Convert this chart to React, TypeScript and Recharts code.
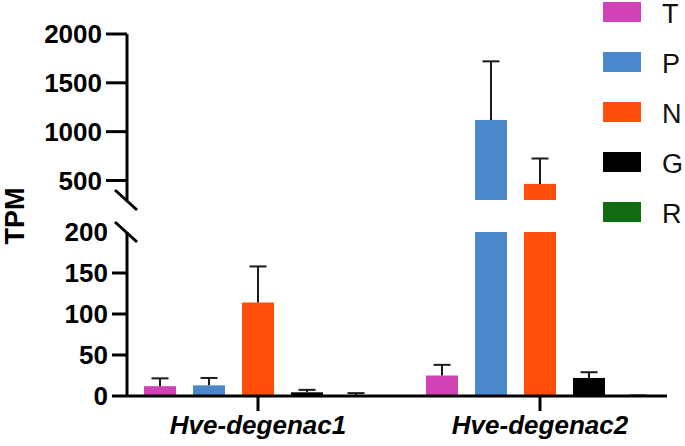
import React from 'react';
import { BarChart, Bar, XAxis, YAxis, Legend } from 'recharts';

const categories = ['Hve-degenac1', 'Hve-degenac2'];
const seriesNames = ['T', 'P', 'N', 'G', 'R'];
const seriesColors = ['#D042B6', '#4B87CB', '#FF4E0C', '#000000', '#116B10'];
const valuesT = [12, 25];
const valuesP = [13, 1120];
const valuesN = [114, 465];
const valuesG = [4.5, 22];
const valuesR = [1, 0.3];
const errT = [9.5, 13];
const errP = [9, 600];
const errN = [44, 260];
const errG = [3, 7];
const errR = [2.5, 0.3];
const upperTicks = [300, 500, 1000, 1500, 2000];
const lowerTicks = [0, 50, 100, 150, 200];
const upperDomain = [300, 2000];
const lowerDomain = [0, 200];

const allValues = [valuesT, valuesP, valuesN, valuesG, valuesR];
const allErrs = [errT, errP, errN, errG, errR];

const upperData = categories.map((c, i) => {
  const row: any = { name: c };
  seriesNames.forEach((s, k) => {
    const v = allValues[k][i];
    row[s] = v > upperDomain[0] ? v : null;
    row[s + 'err'] = v > upperDomain[0] ? allErrs[k][i] : 0;
  });
  return row;
});

const lowerData = categories.map((c, i) => {
  const row: any = { name: c };
  seriesNames.forEach((s, k) => {
    const v = allValues[k][i];
    row[s] = Math.min(v, lowerDomain[1]);
    row[s + 'err'] = v <= lowerDomain[1] ? allErrs[k][i] : 0;
  });
  return row;
});

const FONT = '"Liberation Sans", Arial, sans-serif';

const makeShape = (errKey: string, span: number, base: number) => (props: any) => {
  const { x, y, width, height, fill, payload, background, value } = props;
  if (height == null || !(height > 0) || y == null) return <g />;
  let ppu = 0;
  if (background && background.height) ppu = background.height / span;
  else {
    const v = Array.isArray(value) ? value[1] : value;
    ppu = height / (v - base);
  }
  const e = payload ? payload[errKey] || 0 : 0;
  const cx = x + width / 2;
  const yTop = y - e * ppu;
  return (
    <g>
      <rect x={x} y={y} width={width} height={height} fill={fill} />
      {e > 0 && (
        <g stroke="#1a1a1a" strokeWidth={2}>
          <line x1={cx} y1={y} x2={cx} y2={yTop} />
          <line x1={cx - 8.5} y1={yTop} x2={cx + 8.5} y2={yTop} />
        </g>
      )}
    </g>
  );
};

const UpperTick = (props: any) => {
  const { x, y, payload } = props;
  if (payload.value === upperDomain[0]) {
    return <line x1={x - 12} y1={y - 10} x2={x + 10} y2={y + 10} stroke="#000" strokeWidth={3} />;
  }
  return (
    <g>
      <line x1={x - 21} y1={y} x2={x} y2={y} stroke="#000" strokeWidth={3} />
      <text x={x - 25} y={y} dy="0.36em" textAnchor="end" fontFamily={FONT} fontWeight="bold" fontSize={26} fill="#000">
        {payload.value}
      </text>
    </g>
  );
};

const LowerTick = (props: any) => {
  const { x, y, payload } = props;
  const isTop = payload.value === lowerDomain[1];
  return (
    <g>
      {isTop ? (
        <line x1={x - 12} y1={y - 10} x2={x + 10} y2={y + 10} stroke="#000" strokeWidth={3} />
      ) : (
        <line x1={x - 15} y1={y} x2={x} y2={y} stroke="#000" strokeWidth={3} />
      )}
      <text x={x - 19} y={y} dy="0.36em" textAnchor="end" fontFamily={FONT} fontWeight="bold" fontSize={26} fill="#000">
        {payload.value}
      </text>
    </g>
  );
};

const CatTick = (props: any) => {
  const { x, y, payload } = props;
  return (
    <g>
      <line x1={x} y1={y} x2={x} y2={y + 15} stroke="#000" strokeWidth={3} />
      <text x={x} y={y + 29} dy="0.36em" textAnchor="middle" fontFamily={FONT} fontWeight="bold" fontStyle="italic" fontSize={26} fill="#000">
        {payload.value}
      </text>
    </g>
  );
};

const LegendContent = (props: any) => {
  const payload = [...(props.payload || [])].sort(
    (a: any, b: any) => seriesNames.indexOf(a.value) - seriesNames.indexOf(b.value)
  );
  return (
    <svg width={85} height={230}>
      {payload.map((p: any, i: number) => (
        <g key={p.value}>
          <rect x={3} y={2 + i * 50} width={38} height={20} fill={p.color} />
          <text x={62} y={13 + i * 50} dy="0.36em" fontFamily={FONT} fontSize={27} fill="#111">
            {p.value}
          </text>
        </g>
      ))}
    </svg>
  );
};

const xPadding = { left: -10, right: -14 };

export default function App() {
  return (
    <div style={{ position: 'absolute', left: 0, top: 0, width: 685, height: 446, background: '#fff' }}>
      <div style={{ position: 'absolute', left: 0, top: 0 }}>
        <BarChart width={685} height={215} data={upperData} margin={{ top: 34, right: 18, bottom: 15, left: 0 }} barSize={32} barGap={17}>
          <XAxis dataKey="name" hide padding={xPadding} />
          <YAxis
            type="number"
            domain={upperDomain}
            allowDataOverflow
            ticks={upperTicks}
            interval={0}
            width={127}
            tickSize={0}
            tickMargin={0}
            tickLine={false}
            axisLine={{ stroke: '#000', strokeWidth: 3 }}
            tick={<UpperTick />}
          />
          <Legend
            layout="vertical"
            align="center"
            verticalAlign="middle"
            itemSorter={null as any}
            wrapperStyle={{ left: 600, top: 0, width: 85, height: 230 }}
            content={<LegendContent />}
          />
          {seriesNames.map((s, k) => (
            <Bar
              key={s}
              dataKey={s}
              name={s}
              fill={seriesColors[k]}
              isAnimationActive={false}
              shape={makeShape(s + 'err', upperDomain[1] - upperDomain[0], upperDomain[0])}
            />
          ))}
        </BarChart>
      </div>
      <div style={{ position: 'absolute', left: 0, top: 215 }}>
        <BarChart width={685} height={231} data={lowerData} margin={{ top: 17, right: 18, bottom: 0, left: 0 }} barSize={32} barGap={17}>
          <XAxis
            dataKey="name"
            padding={xPadding}
            height={50}
            tickSize={0}
            tickMargin={0}
            tickLine={false}
            axisLine={{ stroke: '#000', strokeWidth: 3 }}
            tick={<CatTick />}
            interval={0}
          />
          <YAxis
            type="number"
            domain={lowerDomain}
            allowDataOverflow
            ticks={lowerTicks}
            interval={0}
            width={127}
            tickSize={0}
            tickMargin={0}
            tickLine={false}
            axisLine={{ stroke: '#000', strokeWidth: 3 }}
            tick={<LowerTick />}
          />
          {seriesNames.map((s, k) => (
            <Bar
              key={s}
              dataKey={s}
              name={s}
              fill={seriesColors[k]}
              isAnimationActive={false}
              shape={makeShape(s + 'err', lowerDomain[1] - lowerDomain[0], lowerDomain[0])}
            />
          ))}
        </BarChart>
      </div>
      <svg style={{ position: 'absolute', left: 0, top: 0, pointerEvents: 'none' }} width={40} height={446}>
        <text
          x={0}
          y={0}
          transform="translate(14,216) rotate(-90)"
          dy="0.36em"
          textAnchor="middle"
          fontFamily={FONT}
          fontWeight="bold"
          fontSize={27}
          fill="#000"
        >
          TPM
        </text>
      </svg>
    </div>
  );
}
